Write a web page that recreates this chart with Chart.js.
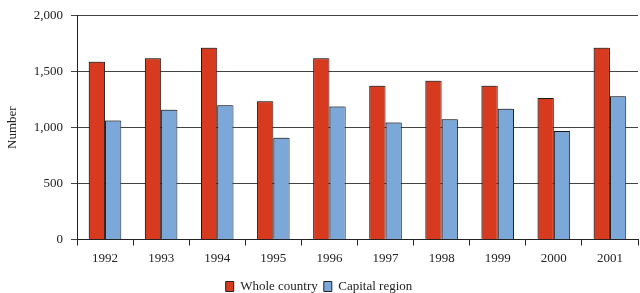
<!DOCTYPE html>
<html>
<head>
<meta charset="utf-8">
<script src="https://cdn.jsdelivr.net/npm/chart.js@4"></script>
<style>
  html, body { margin: 0; padding: 0; background: #fff; }
  #wrap { width: 640px; height: 293px; }
</style>
</head>
<body>
<div id="wrap"><canvas id="bars"></canvas></div>
<script>
// Number per year, whole country vs capital region
const years = ["1992", "1993", "1994", "1995", "1996", "1997", "1998", "1999", "2000", "2001"];
const wholeCountry = [1590, 1620, 1715, 1235, 1620, 1375, 1420, 1375, 1265, 1715];
const capitalRegion = [1065, 1160, 1200, 910, 1190, 1045, 1075, 1170, 970, 1280];
const yTicks = [0, 500, 1000, 1500, 2000];

const serif = "'Liberation Serif', 'Times New Roman', serif";
Chart.defaults.font.family = serif;
Chart.defaults.font.size = 13;
Chart.defaults.color = "#222";

// faint grey shadow up-left of each bar, like the original
const barShadow = {
  id: "barShadow",
  beforeDatasetsDraw(chart) {
    const c = chart.ctx;
    c.save();
    c.shadowColor = "rgba(0, 0, 0, 0.3)";
    c.shadowOffsetX = -1.5;
    c.shadowOffsetY = -1;
    c.shadowBlur = 0;
  },
  afterDatasetsDraw(chart) {
    chart.ctx.restore();
  },
};

const ctx = document.getElementById("bars").getContext("2d");

new Chart(ctx, {
  type: "bar",
  data: {
    labels: years,
    datasets: [
      {
        label: "Whole country",
        data: wholeCountry,
        backgroundColor: "#d83a1f",
        borderColor: "#222",
        borderWidth: 1,
      },
      {
        label: "Capital region",
        data: capitalRegion,
        backgroundColor: "#7ca7d9",
        borderColor: "#222",
        borderWidth: 1,
      },
    ],
  },
  options: {
    responsive: true,
    maintainAspectRatio: false,
    animation: false,
    categoryPercentage: 0.58,
    barPercentage: 1.0,
    layout: { padding: { top: 15, right: 2, left: 0, bottom: -10 } },
    scales: {
      x: {
        grid: {
          drawOnChartArea: false,
          tickLength: 6,
          color: "#222",
        },
        border: { color: "#222", width: 1 },
        ticks: { padding: 5 },
        afterFit: (scale) => { scale.height = 34.5; },
      },
      y: {
        min: 0,
        max: 2000,
        afterBuildTicks: (scale) => {
          scale.ticks = yTicks.map((v) => ({ value: v }));
        },
        ticks: {
          padding: 8,
          callback: (v) => v.toLocaleString("en-US"),
        },
        grid: {
          color: "#444",
          tickLength: 6,
        },
        border: { color: "#222", width: 1 },
        title: {
          display: true,
          text: "Number",
          padding: { top: 5, bottom: 0 },
        },
        afterFit: (scale) => { scale.width = 77; },
      },
    },
    plugins: {
      legend: {
        position: "bottom",
        labels: {
          boxWidth: 8,
          boxHeight: 10,
          padding: 6,
          color: "#222",
        },
      },
      tooltip: { enabled: false },
    },
  },
  plugins: [barShadow],
});
</script>
</body>
</html>
